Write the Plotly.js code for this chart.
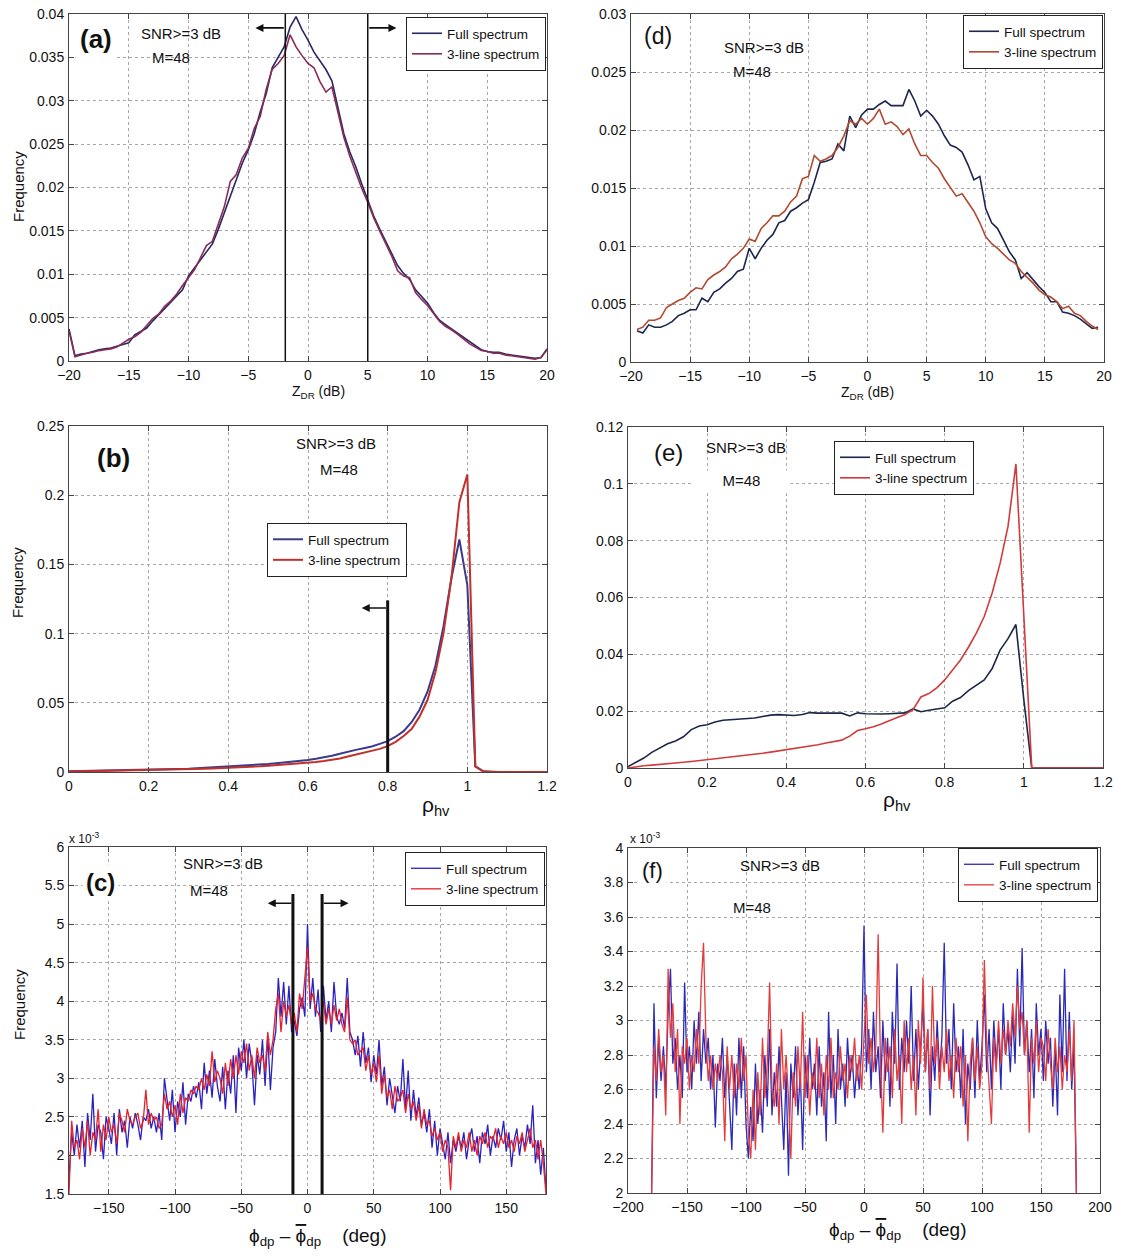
<!DOCTYPE html>
<html><head><meta charset="utf-8">
<script src="https://cdn.plot.ly/plotly-3.0.1.min.js"></script>
<style>html,body{margin:0;padding:0;background:#fff}</style>
</head><body>
<div id="chart" style="width:1123px;height:1256px"></div>
<script>
function binCenters(start, stop, step){const n=Math.round((stop-start)/step);return Array.from({length:n+1},(_,i)=>+(start+i*step).toFixed(4));}

// ---- (a) ZDR, left column ----
const zdrA = binCenters(-20, 20, 0.5);
const freqA_full = [0.0037,0.0006,0.0008,0.0009,0.0011,0.0013,0.0014,0.0015,0.0017,0.0019,
0.0021,0.003,0.0034,0.0038,0.0046,0.0053,0.0061,0.0067,0.0074,0.0082,
0.0098,0.0107,0.0116,0.0125,0.0135,0.0152,0.0171,0.019,0.0208,0.0228,
0.0243,0.0262,0.0287,0.0308,0.0338,0.035,0.0362,0.0385,0.0397,0.0382,
0.037,0.0356,0.0346,0.0336,0.0323,0.0293,0.0262,0.0241,0.0224,0.0204,
0.0185,0.0167,0.0152,0.0138,0.0124,0.011,0.0101,0.0094,0.0082,0.0075,
0.0067,0.0056,0.0047,0.0042,0.0037,0.0032,0.0027,0.0022,0.0017,0.0013,
0.0011,0.001,0.001,0.0008,0.0007,0.0006,0.0005,0.0004,0.0003,0.0004,
0.0014];
const freqA_3line = [0.0035,0.0005,0.0007,0.0009,0.001,0.0012,0.0013,0.0014,0.0016,0.0021,
0.0025,0.0028,0.0033,0.0041,0.0049,0.0054,0.0063,0.0069,0.0077,0.0087,
0.0096,0.0105,0.0119,0.0133,0.0138,0.0158,0.0178,0.0207,0.0215,0.0234,
0.0245,0.0268,0.0282,0.0313,0.0336,0.0343,0.0352,0.0376,0.0362,0.0352,
0.0343,0.0338,0.0322,0.031,0.0316,0.0287,0.0258,0.0236,0.0217,0.0199,
0.0183,0.0165,0.015,0.0136,0.0121,0.0104,0.0098,0.0096,0.0079,0.0071,
0.0064,0.0055,0.0046,0.004,0.0036,0.0031,0.0025,0.002,0.0016,0.0012,
0.0011,0.0009,0.0009,0.0007,0.0006,0.0005,0.0004,0.0003,0.0002,0.0004,
0.0013];
const thresholdsA = [-1.9, 5];

// ---- (d) ZDR, right column ----
const zdrD = binCenters(-19.5, 19.5, 0.5);
const freqD_full = [0.0027,0.0025,0.0032,0.003,0.003,0.0032,0.0035,0.004,0.0042,0.0045,
0.0045,0.0055,0.0052,0.006,0.0063,0.0068,0.0072,0.0078,0.008,0.0098,
0.0089,0.0098,0.0105,0.011,0.012,0.0122,0.013,0.0133,0.0137,0.014,
0.0155,0.0172,0.0173,0.0175,0.0188,0.0182,0.0212,0.0202,0.0213,0.0218,
0.0218,0.0222,0.0225,0.0221,0.0221,0.0221,0.0235,0.0225,0.0212,0.0217,
0.0212,0.0205,0.0195,0.0187,0.0185,0.0181,0.017,0.0157,0.016,0.0132,
0.012,0.0115,0.0105,0.0095,0.0088,0.0072,0.0077,0.0071,0.0065,0.006,
0.0052,0.0052,0.0043,0.0042,0.004,0.0037,0.0033,0.0029,0.003];
const freqD_3line = [0.0028,0.003,0.0036,0.0036,0.0038,0.0047,0.005,0.0053,0.0055,0.006,
0.0064,0.0063,0.0071,0.0075,0.0078,0.0082,0.0089,0.0093,0.0098,0.0106,
0.0104,0.0115,0.012,0.0126,0.0126,0.013,0.0138,0.0143,0.0158,0.016,
0.0178,0.0173,0.0175,0.0178,0.0185,0.0195,0.0208,0.0205,0.021,0.0205,
0.021,0.0218,0.0205,0.0207,0.0203,0.0196,0.0201,0.0188,0.0178,0.0178,
0.0172,0.0167,0.0158,0.015,0.0143,0.0145,0.0138,0.013,0.012,0.0108,
0.0102,0.0098,0.0093,0.0088,0.0085,0.0078,0.0073,0.0068,0.0062,0.0058,
0.0056,0.0052,0.0046,0.0048,0.0042,0.004,0.0035,0.0031,0.0028];

// ---- (b) and (e) rho_hv ----
const rhoBins = binCenters(0, 1.2, 0.02);
const freqB_full = [0.0005,0.0006,0.0007,0.0008,0.0009,0.001,0.0011,0.0012,0.0013,0.0014,
0.0015,0.0017,0.0018,0.002,0.0022,0.0024,0.0027,0.003,0.0032,0.0035,
0.0038,0.0041,0.0045,0.0049,0.0054,0.0058,0.0063,0.0068,0.0074,0.008,
0.0087,0.0095,0.0105,0.0117,0.0132,0.0148,0.016,0.0172,0.0184,0.0203,
0.0223,0.0255,0.0295,0.036,0.045,0.058,0.077,0.105,0.14,0.168,
0.135,0.004,0.0005,0,0,0,0,0,0,0,
0];
const freqB_3line = [0.0003,0.0004,0.0005,0.0006,0.0006,0.0007,0.0008,0.0009,0.001,0.0011,
0.0012,0.0013,0.0014,0.0016,0.0017,0.0019,0.0021,0.0023,0.0025,0.0027,
0.003,0.0032,0.0035,0.0038,0.0041,0.0045,0.0049,0.0053,0.0057,0.0062,
0.0067,0.0073,0.008,0.0088,0.0098,0.0112,0.0125,0.0138,0.015,0.0167,
0.0187,0.0218,0.026,0.031,0.04,0.052,0.072,0.1,0.14,0.195,
0.215,0.004,0.0005,0,0,0,0,0,0,0,
0];
const thresholdB = 0.8;
const freqE_full = [0.0005,0.002,0.0035,0.0055,0.007,0.0085,0.0095,0.011,0.0135,0.0148,
0.0152,0.0162,0.0168,0.017,0.0173,0.0176,0.0176,0.0181,0.0186,0.0188,
0.0186,0.0185,0.0188,0.0195,0.0193,0.0193,0.0194,0.0193,0.0183,0.0194,
0.0191,0.019,0.019,0.0191,0.0193,0.0194,0.0208,0.0198,0.0203,0.0208,
0.0212,0.0235,0.0248,0.0272,0.029,0.031,0.035,0.0415,0.0455,0.0505,
0.024,0,0,0,0,0,0,0,0,0,
0];
const freqE_3line = [0,0.0005,0.0008,0.001,0.0012,0.0014,0.0017,0.002,0.0023,0.0026,
0.003,0.0032,0.0035,0.0038,0.0042,0.0045,0.0048,0.0052,0.0056,0.006,
0.0064,0.0068,0.0072,0.0077,0.0082,0.0088,0.0093,0.0098,0.0112,0.0132,
0.0138,0.0145,0.0155,0.0167,0.0178,0.0188,0.0205,0.025,0.0262,0.0282,
0.031,0.0345,0.038,0.0425,0.0475,0.0533,0.0616,0.072,0.085,0.107,
0.055,0,0,0,0,0,0,0,0,0,
0];

// ---- (c) and (f) phi_dp deviation, values in units of 1e-3 ----
const phiBins = binCenters(-180, 180, 2);
const freqC_full_e3 = [1.7,2.3,2.0,2.4,2.1,2.45,1.85,2.55,2.2,2.8,
2.05,2.4,2.3,1.95,2.5,2.35,2.15,2.55,2.0,2.6,
2.3,2.45,2.1,2.5,2.35,2.55,2.4,2.2,2.5,2.45,
2.6,2.35,2.5,2.3,2.55,2.2,3.0,2.75,2.45,2.85,
2.3,2.7,2.5,2.95,2.4,2.8,2.7,2.9,2.75,2.95,
2.6,3.2,2.8,3.1,2.75,3.25,2.9,2.7,3.15,2.6,
3.1,2.8,3.3,2.55,3.4,3.1,3.5,3.0,3.45,3.2,
2.65,3.3,3.05,3.5,2.9,3.55,2.85,3.4,3.6,4.3,
3.8,4.25,3.7,4.2,3.6,3.75,3.55,3.9,4.05,3.8,
5.0,3.9,4.3,3.8,4.15,3.6,4.2,3.75,4.0,3.6,
4.25,3.8,3.7,3.85,3.65,4.3,3.6,3.5,3.3,3.55,
3.15,3.6,3.2,3.4,2.95,3.3,3.05,3.5,2.9,3.15,
2.65,3.0,2.8,2.55,2.9,2.7,3.25,2.6,3.1,2.45,
2.85,2.5,2.75,2.4,2.55,2.3,2.6,2.1,2.45,2.0,
2.35,2.15,1.95,2.3,1.9,2.2,2.05,2.25,2.1,2.3,
1.95,2.2,2.35,2.05,2.25,1.9,2.3,2.15,2.4,2.0,
2.25,2.1,2.35,2.2,2.45,2.05,2.3,1.85,2.2,2.35,
2.0,2.25,2.1,2.4,2.15,2.65,1.9,2.2,1.75,2.1,
1.55];
const freqC_3line_e3 = [1.5,2.45,2.1,2.2,1.95,2.35,2.1,2.45,2.0,2.3,
2.2,2.6,2.05,2.4,2.2,2.5,2.3,2.4,2.15,2.55,
2.45,2.3,2.6,2.45,2.4,2.5,2.55,2.35,2.45,2.85,
2.4,2.55,2.45,2.5,2.35,2.4,2.8,2.6,2.7,2.5,
2.65,2.4,2.8,2.55,2.75,2.7,2.85,2.8,2.9,2.85,
3.0,2.85,3.05,2.9,3.35,2.95,3.1,3.0,2.8,3.2,
2.9,3.25,3.0,3.3,3.05,3.35,3.2,3.45,3.1,3.3,
3.0,3.4,3.2,3.3,3.1,3.6,3.3,3.5,3.9,4.1,
3.6,4.0,3.8,3.95,3.7,3.85,3.6,4.1,3.9,4.35,
4.7,4.0,4.1,3.9,3.85,3.75,4.0,3.7,3.9,3.7,
3.95,3.75,3.9,3.7,3.6,4.05,3.5,3.45,3.5,3.3,
3.35,3.4,3.1,3.3,3.05,3.2,2.95,3.3,2.8,3.05,
2.75,2.85,2.6,2.9,2.7,2.75,2.85,2.55,2.8,2.6,
2.7,2.45,2.65,2.35,2.6,2.4,2.45,2.25,2.35,2.2,
2.3,2.05,2.2,2.1,1.55,2.25,2.1,2.3,2.05,2.2,
2.1,2.3,2.05,2.2,2.0,2.25,2.15,2.3,2.1,2.25,
2.2,2.35,2.1,2.25,2.15,2.3,2.1,2.2,2.05,2.25,
2.15,2.3,2.05,2.2,2.35,2.1,2.2,1.95,2.2,1.9,
1.5];
const thresholdsC = [-11, 11];
const freqF_full_e3 = [2.0,3.1,2.55,2.9,2.65,2.85,2.6,3.05,3.3,2.75,
2.9,2.6,2.8,2.55,3.22,2.7,2.85,2.6,3.0,2.75,
3.05,2.65,2.95,2.75,2.9,2.6,2.8,2.38,2.75,2.65,
2.9,2.55,2.8,2.5,2.25,2.75,2.45,2.9,2.55,2.85,
2.4,2.2,2.5,2.3,2.75,2.4,2.6,2.35,2.8,2.5,
2.95,2.45,2.7,2.5,2.85,2.55,2.25,2.7,2.1,2.75,
2.55,2.85,2.45,2.7,2.25,2.8,2.55,2.9,2.6,2.75,
2.45,2.85,2.5,2.7,2.3,3.05,2.55,2.8,2.4,2.95,
2.6,2.75,2.5,2.9,2.65,2.8,2.55,2.75,2.6,2.85,
3.55,2.7,2.95,2.6,3.05,2.7,2.85,2.55,3.0,2.65,
2.9,2.5,3.05,2.75,3.33,2.6,2.9,2.7,3.0,2.75,
3.2,2.65,2.95,2.6,2.85,3.1,2.7,2.95,2.45,2.85,
2.65,3.0,2.7,2.9,3.45,2.75,2.95,2.6,3.1,2.7,
2.85,2.55,2.95,2.4,2.75,2.6,2.9,2.55,3.0,2.65,
2.85,3.15,2.7,2.95,2.6,3.0,2.75,2.95,2.6,3.1,
2.8,2.95,2.7,3.05,2.75,3.3,2.85,3.42,2.8,3.0,
2.7,2.95,2.55,3.1,2.8,2.95,2.65,3.0,2.75,2.9,
2.5,2.85,2.45,3.15,2.7,3.3,2.65,3.05,2.6,2.85,
2.0];
const freqF_3line_e3 = [2.0,2.85,2.65,2.95,2.7,2.8,2.45,3.3,2.9,3.1,
2.7,2.95,2.4,2.85,2.75,2.9,2.6,2.8,2.7,2.95,
2.75,3.2,3.45,2.9,2.65,2.8,2.6,2.75,2.65,2.8,
2.7,2.3,2.85,2.6,2.8,2.55,2.75,2.6,2.9,2.65,
2.8,2.35,2.2,2.6,2.25,2.7,2.45,2.9,2.55,2.75,
3.22,2.6,2.5,2.75,2.4,2.95,2.6,2.8,2.55,2.2,
2.7,2.5,2.85,2.6,3.05,2.55,2.8,2.45,2.7,2.6,
2.9,2.55,2.75,2.45,2.8,2.6,2.9,2.55,2.7,2.6,
2.85,2.65,2.75,2.55,2.8,2.7,2.9,2.65,2.8,2.6,
2.9,3.15,2.75,2.9,2.7,2.85,3.5,2.75,2.35,2.9,
2.7,2.85,2.55,2.95,2.65,2.8,2.4,3.0,2.7,2.9,
2.6,2.8,2.45,3.0,2.75,3.25,2.7,2.95,2.6,3.2,
2.75,2.9,2.6,2.85,2.7,2.95,2.65,2.8,2.55,2.9,
2.7,2.85,2.5,2.8,2.3,2.75,2.9,2.65,2.85,2.6,
2.75,3.35,2.85,2.6,2.4,2.9,2.7,3.0,2.75,2.95,
2.8,3.0,2.85,3.1,2.9,3.2,2.95,3.05,2.8,3.0,
2.35,2.9,2.75,3.0,2.7,2.9,2.85,2.65,2.95,2.75,
2.6,2.9,2.7,2.85,2.6,2.8,2.7,2.95,2.65,3.0,
2.0];

const seriesNames = ['Full spectrum', '3-line spectrum'];

// ---------- layout helpers (pixels -> paper) ----------
const W = 1123, H = 1256;
const px = x => x / W, py = y => 1 - y / H;
const FONT = 'Liberation Sans, Arial, sans-serif';

function axis(range, dtick, dom, anchor){
  return {
    range: range, dtick: dtick, tick0: 0, domain: dom, anchor: anchor,
    showline: true, mirror: 'ticks', linecolor: '#444', linewidth: 1,
    ticks: 'inside', ticklen: 5, tickcolor: '#444', tickwidth: 1,
    showgrid: true, gridcolor: '#a8a8a8', gridwidth: 1, griddash: 'dot',
    zeroline: false, ticklabelstandoff: 1,
    tickfont: {family: FONT, size: 14, color: '#111'}
  };
}

function lineTrace(x, y, xa, ya, name, color, width, leg){
  return {type: 'scatter', mode: 'lines', x: x, y: y, xaxis: xa, yaxis: ya, name: name,
    line: {color: color, width: width}, legend: leg, showlegend: true};
}

const traces = [
  lineTrace(zdrA, freqA_full, 'x', 'y', seriesNames[0], '#2a2862', 1.6, 'legend'),
  lineTrace(zdrA, freqA_3line, 'x', 'y', seriesNames[1], '#8a2c58', 1.6, 'legend'),
  lineTrace(zdrD, freqD_full, 'x2', 'y2', seriesNames[0], '#1e2650', 1.6, 'legend2'),
  lineTrace(zdrD, freqD_3line, 'x2', 'y2', seriesNames[1], '#b04a32', 1.6, 'legend2'),
  lineTrace(rhoBins, freqB_full, 'x3', 'y3', seriesNames[0], '#3b3b8e', 2, 'legend3'),
  lineTrace(rhoBins, freqB_3line, 'x3', 'y3', seriesNames[1], '#c0302c', 2, 'legend3'),
  lineTrace(rhoBins, freqE_full, 'x4', 'y4', seriesNames[0], '#1d2748', 1.6, 'legend4'),
  lineTrace(rhoBins, freqE_3line, 'x4', 'y4', seriesNames[1], '#d03c3c', 1.6, 'legend4'),
  lineTrace(phiBins, freqC_full_e3, 'x5', 'y5', seriesNames[0], '#2a22c0', 1.3, 'legend5'),
  lineTrace(phiBins, freqC_3line_e3, 'x5', 'y5', seriesNames[1], '#e4222c', 1.3, 'legend5'),
  lineTrace(phiBins, freqF_full_e3, 'x6', 'y6', seriesNames[0], '#2a2ab8', 1.3, 'legend6'),
  lineTrace(phiBins, freqF_3line_e3, 'x6', 'y6', seriesNames[1], '#e43a3a', 1.3, 'legend6')
];

function leg(xRight, yTop){
  return {x: px(xRight), y: py(yTop), xanchor: 'right', yanchor: 'top', xref: 'paper', yref: 'paper',
    bgcolor: '#fff', bordercolor: '#222', borderwidth: 1, itemwidth: 30, tracegroupgap: 0,
    font: {family: FONT, size: 13.5, color: '#111'}};
}

function txt(text, xp, yp, size, extra){
  return Object.assign({text: text, x: px(xp), y: py(yp), xref: 'paper', yref: 'paper',
    showarrow: false, xanchor: 'center', yanchor: 'middle',
    font: {family: FONT, size: size, color: '#111'}}, extra || {});
}
function arrow(xa, ya, xFrom, xTo, y){
  return {x: xTo, y: y, ax: xFrom, ay: y, xref: xa, yref: ya, axref: xa, ayref: ya,
    text: '', showarrow: true, arrowhead: 2, arrowsize: 1, arrowwidth: 1.6, arrowcolor: '#111'};
}
function vline(xa, ya, x, y0, y1, w){
  return {type: 'line', xref: xa, yref: ya, x0: x, x1: x, y0: y0, y1: y1, line: {color: '#111', width: w}};
}

const phiTitle = 'ϕ<sub>dp</sub> – <span style="text-decoration:overline">ϕ</span><sub>dp</sub>    (deg)';
const WB = {bgcolor: '#fff', borderpad: 3};

const layout = {
  width: W, height: H, margin: {l: 0, r: 0, t: 0, b: 0},
  paper_bgcolor: '#fff', plot_bgcolor: '#fff',
  font: {family: FONT, size: 13, color: '#111'},
  xaxis: axis([-20, 20], 5, [px(69), px(547)], 'y'),
  yaxis: axis([0, 0.04], 0.005, [py(361), py(14)], 'x'),
  xaxis2: axis([-20, 20], 5, [px(631), px(1104)], 'y2'),
  yaxis2: axis([0, 0.03], 0.005, [py(362), py(14)], 'x2'),
  xaxis3: axis([0, 1.2], 0.2, [px(69), px(547)], 'y3'),
  yaxis3: axis([0, 0.25], 0.05, [py(772), py(426)], 'x3'),
  xaxis4: axis([0, 1.2], 0.2, [px(628), px(1103)], 'y4'),
  yaxis4: axis([0, 0.12], 0.02, [py(768), py(427)], 'x4'),
  xaxis5: axis([-180, 180], 50, [px(69), px(546)], 'y5'),
  yaxis5: axis([1.5, 6], 0.5, [py(1194), py(847)], 'x5'),
  xaxis6: axis([-200, 200], 50, [px(628), px(1100)], 'y6'),
  yaxis6: axis([2, 4], 0.2, [py(1193), py(848)], 'x6'),
  legend: leg(546, 17),
  legend2: leg(1103, 15),
  legend3: leg(407, 523),
  legend4: leg(974, 441),
  legend5: leg(545, 852),
  legend6: leg(1098, 848),
  shapes: [
    vline('x', 'y', thresholdsA[0], 0, 0.04, 1.5),
    vline('x', 'y', thresholdsA[1], 0, 0.04, 1.5),
    vline('x3', 'y3', thresholdB, 0, 0.124, 3),
    vline('x5', 'y5', thresholdsC[0], 1.5, 5.39, 3),
    vline('x5', 'y5', thresholdsC[1], 1.5, 5.39, 3)
  ],
  annotations: [
    // panel letters and notes
    txt('<b>(a)</b>', 96, 39, 26, {bgcolor: '#fff', borderpad: 4}),
    txt('SNR>=3 dB', 181, 33, 15),
    txt('M=48', 171, 57, 15),
    txt('(d)', 658, 36, 23),
    txt('SNR>=3 dB', 764, 48, 15),
    txt('M=48', 752, 72, 15),
    txt('<b>(b)</b>', 113, 458, 26),
    txt('SNR>=3 dB', 336, 443, 15),
    txt('M=48', 339, 470, 15),
    txt('(e)', 668, 452, 24),
    txt('SNR>=3 dB', 746, 448, 15),
    txt('M=48', 741, 480, 15, {bgcolor: '#fff', width: 95}),
    txt('<b>(c)</b>', 100, 882, 24, WB),
    txt('SNR>=3 dB', 223, 863, 15),
    txt('M=48', 209, 890, 15),
    txt('x 10<sup>-3</sup>', 84, 838, 12),
    txt('(f)', 652, 870, 22, WB),
    txt('SNR>=3 dB', 780, 865, 15),
    txt('M=48', 752, 908, 15),
    txt('x 10<sup>-3</sup>', 645, 838, 12),
    // axis titles
    txt('Z<sub>DR</sub> (dB)', 318, 392, 14),
    txt('Z<sub>DR</sub> (dB)', 867, 393, 14),
    txt('ρ<sub>hv</sub>', 436, 806, 21),
    txt('ρ<sub>hv</sub>', 897, 801, 21),
    txt(phiTitle, 318, 1237, 19),
    txt(phiTitle, 898, 1231, 19),
    txt('Frequency', 19, 187, 15, {textangle: -90}),
    txt('Frequency', 17, 583, 15, {textangle: -90}),
    txt('Frequency', 19, 1005, 15, {textangle: -90}),
    // arrows
    arrow('x', 'y', thresholdsA[0], -4.4, 0.0384),
    arrow('x', 'y', thresholdsA[1], 7.4, 0.0384),
    arrow('x3', 'y3', thresholdB, 0.735, 0.1185),
    arrow('x5', 'y5', thresholdsC[0], -30, 5.27),
    arrow('x5', 'y5', thresholdsC[1], 31, 5.27)
  ]
};

Plotly.newPlot('chart', traces, layout, {staticPlot: true, displayModeBar: false});
</script>
</body></html>
